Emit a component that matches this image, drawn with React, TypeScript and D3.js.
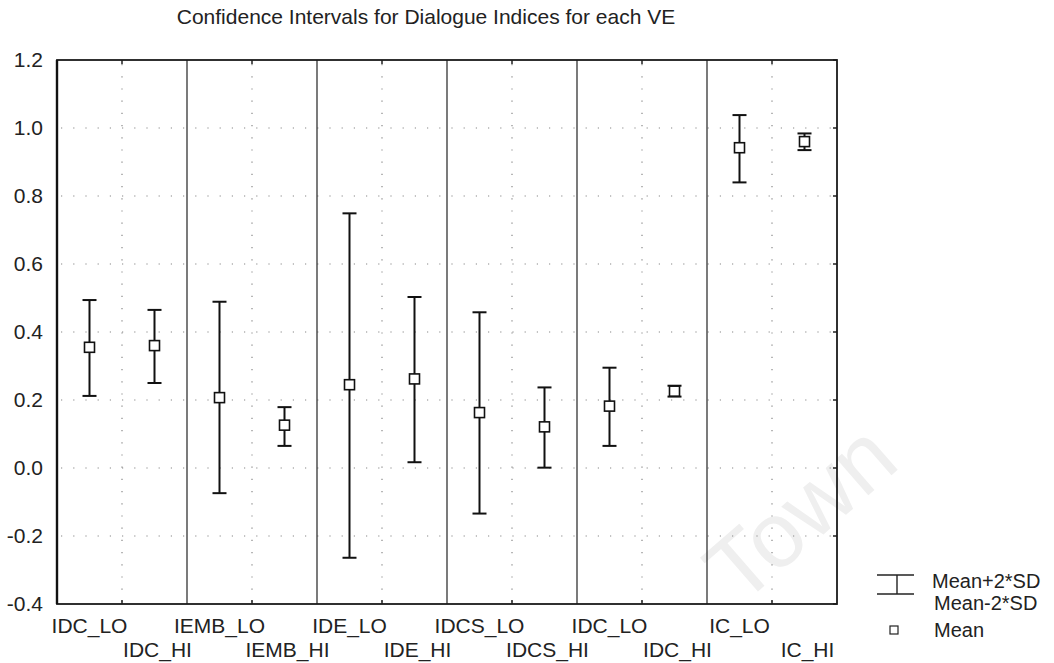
import { useEffect, useRef } from "react"
import * as d3 from "d3"

const categories = [
  "IDC_LO", "IDC_HI", "IEMB_LO", "IEMB_HI", "IDE_LO", "IDE_HI",
  "IDCS_LO", "IDCS_HI", "IDC_LO", "IDC_HI", "IC_LO", "IC_HI",
]
const means = [0.355, 0.36, 0.207, 0.126, 0.245, 0.262, 0.163, 0.121, 0.182, 0.226, 0.942, 0.96]
const upper = [0.494, 0.465, 0.489, 0.179, 0.749, 0.503, 0.458, 0.237, 0.295, 0.242, 1.038, 0.984]
const lower = [0.212, 0.25, -0.074, 0.065, -0.264, 0.017, -0.134, 0.001, 0.065, 0.21, 0.84, 0.935]
const yTicks = [-0.4, -0.2, 0, 0.2, 0.4, 0.6, 0.8, 1.0, 1.2]

const title = "Confidence Intervals for Dialogue Indices for each VE"
const legendLabels = ["Mean+2*SD", "Mean-2*SD", "Mean"]

export default function App() {
  const svgRef = useRef<SVGSVGElement>(null)

  useEffect(() => {
    if (!svgRef.current) return
    const W = 1054
    const H = 663
    const margin = { top: 60, right: 217, bottom: 59, left: 57 }
    const font = "'Liberation Sans', Arial, sans-serif"

    const svg = d3.select(svgRef.current).attr("width", W).attr("height", H)
    svg.selectAll("*").remove()

    const idx = d3.range(categories.length)
    const x = d3
      .scaleBand<number>()
      .domain(idx)
      .range([margin.left, W - margin.right])
      .padding(0)
    const y = d3
      .scaleLinear()
      .domain([-0.4, 1.2])
      .range([H - margin.bottom, margin.top])

    const x0 = margin.left
    const x1 = W - margin.right
    const y0 = H - margin.bottom
    const y1 = margin.top

    // faint scan watermark
    svg
      .append("text")
      .attr("transform", `translate(902,466) rotate(-41)`)
      .attr("text-anchor", "end")
      .style("font-family", font)
      .style("font-size", "92px")
      .style("fill", "#efefef")
      .text("Town")

    // title
    svg
      .append("text")
      .attr("x", 426)
      .attr("y", 24)
      .attr("text-anchor", "middle")
      .style("font-family", font)
      .style("font-size", "21px")
      .style("fill", "#222")
      .text(title)

    // dotted grid
    const grid = svg.append("g").attr("stroke", "#888").attr("stroke-width", 1.2).attr("stroke-dasharray", "1.2,11")
    yTicks.slice(1, -1).forEach((t) => {
      grid.append("line").attr("x1", x0 + 4).attr("x2", x1 - 2).attr("y1", y(t)).attr("y2", y(t))
    })
    idx.filter((i) => i % 2 === 1).forEach((i) => {
      grid.append("line").attr("x1", x(i)!).attr("x2", x(i)!).attr("y1", y1 + 4).attr("y2", y0 - 2)
    })

    // panel separators
    idx.filter((i) => i % 2 === 0 && i > 0).forEach((i) => {
      svg
        .append("line")
        .attr("x1", x(i)!)
        .attr("x2", x(i)!)
        .attr("y1", y1)
        .attr("y2", y0)
        .attr("stroke", "#333")
        .attr("stroke-width", 1.3)
    })

    // small tick marks on top, bottom and right
    const ticks = svg.append("g").attr("stroke", "#222").attr("stroke-width", 1.5)
    idx.filter((i) => i % 2 === 1).forEach((i) => {
      ticks.append("line").attr("x1", x(i)!).attr("x2", x(i)!).attr("y1", y1).attr("y2", y1 + 4)
      ticks.append("line").attr("x1", x(i)!).attr("x2", x(i)!).attr("y1", y0).attr("y2", y0 - 4)
    })
    yTicks.forEach((t) => {
      ticks.append("line").attr("x1", x1).attr("x2", x1 - 4).attr("y1", y(t)).attr("y2", y(t))
    })

    // frame
    svg
      .append("rect")
      .attr("x", x0)
      .attr("y", y1)
      .attr("width", x1 - x0)
      .attr("height", y0 - y1)
      .attr("fill", "none")
      .attr("stroke", "#1a1a1a")
      .attr("stroke-width", 1.8)
    svg
      .append("line")
      .attr("x1", x0)
      .attr("x2", x0)
      .attr("y1", y1)
      .attr("y2", y0)
      .attr("stroke", "#111")
      .attr("stroke-width", 2.4)

    // y axis labels
    const yAxis = svg
      .append("g")
      .attr("transform", `translate(${x0},0)`)
      .call(
        d3
          .axisLeft(y)
          .tickValues(yTicks)
          .tickSize(0)
          .tickPadding(14)
          .tickFormat((d) => (d as number).toFixed(1))
      )
    yAxis.select(".domain").remove()
    yAxis.selectAll("text").style("font-family", font).style("font-size", "21px").style("fill", "#222")

    // x axis labels (staggered)
    svg
      .append("g")
      .selectAll("text")
      .data(idx)
      .enter()
      .append("text")
      .attr("x", (i) => x(i)! + x.bandwidth() / 2 + (i % 2 === 1 ? 3 : 0))
      .attr("y", (i) => (i % 2 === 0 ? 633 : 657))
      .attr("text-anchor", "middle")
      .style("font-family", font)
      .style("font-size", "21px")
      .style("fill", "#222")
      .text((i) => categories[i])

    // error bars
    const capW = 14
    const box = 10
    const bars = svg.append("g").attr("stroke", "#111").attr("stroke-width", 2)
    idx.forEach((i) => {
      const cx = x(i)! + x.bandwidth() / 2
      bars.append("line").attr("x1", cx).attr("x2", cx).attr("y1", y(upper[i])).attr("y2", y(lower[i]))
      bars.append("line").attr("x1", cx - capW / 2).attr("x2", cx + capW / 2).attr("y1", y(upper[i])).attr("y2", y(upper[i]))
      bars.append("line").attr("x1", cx - capW / 2).attr("x2", cx + capW / 2).attr("y1", y(lower[i])).attr("y2", y(lower[i]))
      bars
        .append("rect")
        .attr("x", cx - box / 2)
        .attr("y", y(means[i]) - box / 2)
        .attr("width", box)
        .attr("height", box)
        .attr("fill", "#fff")
        .attr("stroke-width", 1.6)
    })

    // legend
    const lg = svg.append("g").attr("stroke", "#222").attr("stroke-width", 1.4)
    lg.append("line").attr("x1", 877).attr("x2", 914).attr("y1", 575).attr("y2", 575)
    lg.append("line").attr("x1", 877).attr("x2", 914).attr("y1", 594).attr("y2", 594)
    lg.append("line").attr("x1", 897).attr("x2", 897).attr("y1", 575).attr("y2", 594)
    lg.append("rect").attr("x", 890).attr("y", 626).attr("width", 8).attr("height", 8).attr("fill", "#fff").attr("stroke-width", 1.2)
    svg
      .append("g")
      .selectAll("text")
      .data(legendLabels)
      .enter()
      .append("text")
      .attr("x", (_, i) => (i === 0 ? 932 : 934))
      .attr("y", (_, i) => [588, 610, 637][i])
      .style("font-family", font)
      .style("font-size", "20px")
      .style("fill", "#222")
      .text((d) => d)
  }, [])

  return (
    <div style={{ position: "absolute", left: 0, top: 0, background: "#fff" }}>
      <svg ref={svgRef}></svg>
    </div>
  )
}
